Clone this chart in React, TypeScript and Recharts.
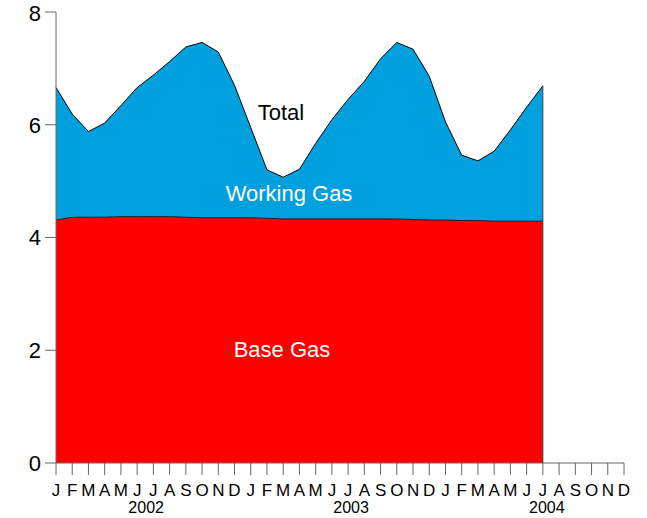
import React from 'react';
import { AreaChart, Area, XAxis, YAxis, ReferenceLine } from 'recharts';

const monthLetters = ['J', 'F', 'M', 'A', 'M', 'J', 'J', 'A', 'S', 'O', 'N', 'D'];
const years = ['2002', '2003', '2004'];

// total storage (top of blue area) Jan 2002 .. Jul 2004
const totalStorage = [
    6.66, 6.19, 5.88, 6.03, 6.34, 6.66, 6.88, 7.12, 7.38, 7.46, 7.29, 6.70,
    5.95, 5.20, 5.07, 5.21, 5.67, 6.09, 6.45, 6.77, 7.17, 7.46, 7.34, 6.86,
    6.05, 5.46, 5.36, 5.53, 5.91, 6.31, 6.69,
];

// base gas (red area)
const baseGas = [
    4.31, 4.36, 4.36, 4.36, 4.37, 4.37, 4.37, 4.37, 4.36, 4.35, 4.35, 4.35,
    4.35, 4.34, 4.33, 4.33, 4.33, 4.33, 4.33, 4.33, 4.33, 4.33, 4.32, 4.31,
    4.31, 4.30, 4.30, 4.29, 4.29, 4.29, 4.29,
];

const yTicks = [0, 2, 4, 6, 8];

// where the year label sits under the month row (month key, horizontal nudge)
const yearLabelAt: Record<string, number> = { '2002-06': 9, '2003-07': 3, '2004-07': 4 };

const data = years.flatMap((yr, yi) =>
    monthLetters.map((_, mi) => {
        const i = yi * 12 + mi;
        return {
            key: `${yr}-${String(mi + 1).padStart(2, '0')}`,
            total: i < totalStorage.length ? totalStorage[i] : null,
            base: i < baseGas.length ? baseGas[i] : null,
        };
    })
);

const lastKey = data[totalStorage.length - 1].key;
const lastTotal = totalStorage[totalStorage.length - 1];

const font = '"Liberation Sans", Arial, sans-serif';

const MonthTick = (props: any) => {
    const { x, y, payload } = props;
    const k: string = payload.value;
    const m = parseInt(k.slice(5), 10) - 1;
    const nudge = yearLabelAt[k];
    return (
        <g>
            <text x={x} y={y} dy={21} textAnchor="middle" fontSize={17} fill="#000" fontFamily={font}>
                {monthLetters[m]}
            </text>
            {nudge !== undefined && (
                <text x={x + nudge} y={y} dy={38} textAnchor="middle" fontSize={16} fill="#000" fontFamily={font}>
                    {k.slice(0, 4)}
                </text>
            )}
        </g>
    );
};

const labelStyle: React.CSSProperties = {
    position: 'absolute',
    fontFamily: font,
    fontSize: 22,
    transform: 'translate(-50%, -50%)',
    whiteSpace: 'nowrap',
    pointerEvents: 'none',
};

const App: React.FC = () => {
    return (
        <div style={{ position: 'absolute', left: 0, top: 0, width: 647, height: 518, background: '#fff' }}>
            <AreaChart width={647} height={518} data={data} margin={{ top: 12, right: 23, bottom: 0, left: 0 }}>
                <XAxis
                    dataKey="key"
                    interval={0}
                    height={55}
                    tickSize={12}
                    tickMargin={0}
                    stroke="#666"
                    tick={<MonthTick />}
                />
                <YAxis
                    domain={[0, 8]}
                    ticks={yTicks}
                    width={56}
                    tickSize={11}
                    tickMargin={4}
                    stroke="#666"
                    tick={{ fill: '#000', fontSize: 22, fontFamily: font }}
                />
                <Area
                    type="linear"
                    dataKey="total"
                    stroke="#000"
                    strokeWidth={1}
                    fill="#00A0DE"
                    fillOpacity={1}
                    isAnimationActive={false}
                    dot={false}
                    activeDot={false}
                />
                <Area
                    type="linear"
                    dataKey="base"
                    stroke="#222"
                    strokeWidth={1}
                    fill="#FF0000"
                    fillOpacity={1}
                    isAnimationActive={false}
                    dot={false}
                    activeDot={false}
                />
                <ReferenceLine
                    segment={[{ x: lastKey, y: 0 }, { x: lastKey, y: lastTotal }]}
                    stroke="#444"
                    strokeWidth={1}
                />
            </AreaChart>
            <div style={{ ...labelStyle, left: 281, top: 113, color: '#000' }}>Total</div>
            <div style={{ ...labelStyle, left: 289, top: 194, color: '#fff' }}>Working Gas</div>
            <div style={{ ...labelStyle, left: 282, top: 350, color: '#fff' }}>Base Gas</div>
        </div>
    );
};

export default App;
